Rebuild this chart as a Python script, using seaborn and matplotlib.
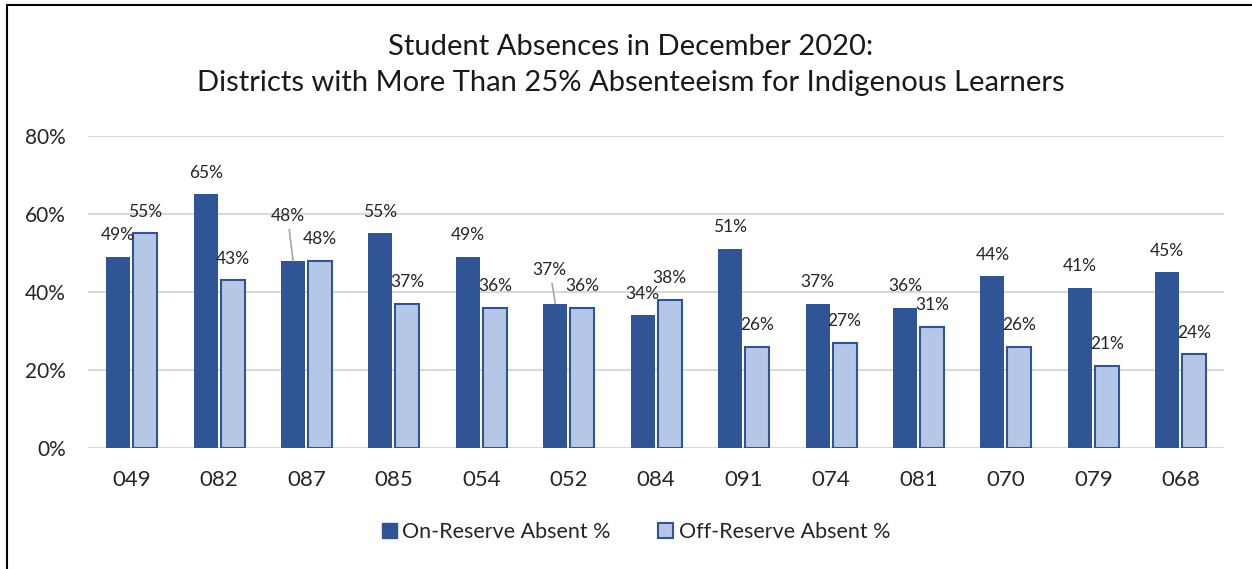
import matplotlib.pyplot as plt
import seaborn as sns
import pandas as pd
from matplotlib.lines import Line2D
from matplotlib.patches import Patch

districts = ['049', '082', '087', '085', '054', '052', '084', '091', '074', '081', '070', '079', '068']
on_reserve = [49, 65, 48, 55, 49, 37, 34, 51, 37, 36, 44, 41, 45]
off_reserve = [55, 43, 48, 37, 36, 36, 38, 26, 27, 31, 26, 21, 24]
series = ['On-Reserve Absent %', 'Off-Reserve Absent %']
y_ticks = [0, 20, 40, 60, 80]

dark_blue = '#2F5597'
light_blue = '#B4C7E7'

df = pd.DataFrame({
    'district': districts * 2,
    'value': on_reserve + off_reserve,
    'series': [series[0]] * len(districts) + [series[1]] * len(districts),
})

sns.set_theme(style='white')
plt.rcParams['font.family'] = ['Lato', 'DejaVu Sans']

fig = plt.figure(figsize=(12.52, 5.69), dpi=100)
ax = fig.add_axes([0.0703, 0.2127, 0.9077, 0.5483])

sns.barplot(
    data=df, x='district', y='value', hue='series',
    palette=[dark_blue, light_blue], width=0.617, gap=0.11,
    legend=False, ax=ax, saturation=1
)

# edges: light bars get a dark outline
for i, cont in enumerate(ax.containers):
    for bar in cont:
        bar.set_edgecolor(dark_blue)
        bar.set_linewidth(0 if i == 0 else 1.5)

ax.set_ylim(0, 80)
ax.set_xlim(-0.5, len(districts) - 0.5)
ax.set_yticks(y_ticks)
ax.set_yticklabels([f'{t}%' for t in y_ticks], fontsize=15, color='#262626')
ax.tick_params(axis='x', labelsize=16, colors='#262626', pad=16)
ax.tick_params(axis='y', pad=16, length=0)
ax.tick_params(axis='x', length=0)
ax.set_xlabel('')
ax.set_ylabel('')
ax.grid(axis='y', color='#D9D9D9', linewidth=1.5)
ax.set_axisbelow(True)
for s in ax.spines.values():
    s.set_visible(False)

# data labels (offsets in points); two labels moved up with leader lines
moved = {2: (-4, 29), 5: (-4, 21)}
for i, cont in enumerate(ax.containers):
    vals = on_reserve if i == 0 else off_reserve
    for j, bar in enumerate(cont):
        x = bar.get_x() + bar.get_width() / 2
        v = vals[j]
        if i == 0 and j in moved:
            dx, dy = moved[j]
            ax.annotate(f'{v}%', xy=(x, v), xytext=(dx, dy), textcoords='offset points',
                        ha='center', va='baseline', fontsize=12.5, color='#262626',
                        arrowprops=dict(arrowstyle='-', color='#A6A6A6', lw=1.2,
                                        shrinkA=2, shrinkB=0))
        else:
            ax.annotate(f'{v}%', xy=(x, v), xytext=(0, 12), textcoords='offset points',
                        ha='center', va='baseline', fontsize=12.5, color='#262626')

fig.suptitle('Student Absences in December 2020:\nDistricts with More Than 25% Absenteeism for Indigenous Learners',
             x=0.504, y=0.94, fontsize=21, color='#1a1a1a', linespacing=1.45)

handles = [Patch(facecolor=dark_blue, edgecolor=dark_blue),
           Patch(facecolor=light_blue, edgecolor=dark_blue, linewidth=1.5)]
fig.legend(handles, series, loc='center', bbox_to_anchor=(0.508, 0.065), ncol=2,
           frameon=False, fontsize=15.5, handlelength=0.7, handleheight=0.7,
           handletextpad=0.25, columnspacing=2.2)

# chart border (left and top edges visible)
bx = 7 / 1252
by = 1 - 5 / 569
fig.add_artist(Line2D([bx, bx], [0, by], color='black', lw=1.5, transform=fig.transFigure))
fig.add_artist(Line2D([bx, 1], [by, by], color='black', lw=1.5, transform=fig.transFigure))

fig.savefig('out.png', dpi=100, facecolor='white')
